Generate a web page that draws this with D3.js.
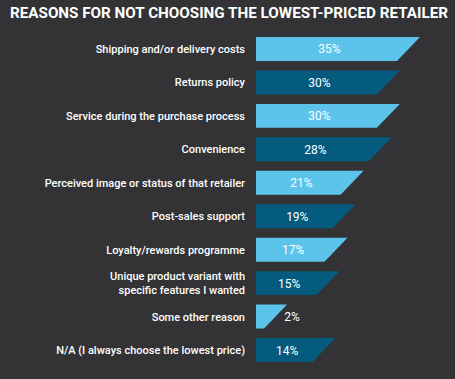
<!DOCTYPE html>
<html>
<head>
<meta charset="utf-8">
<script src="https://cdn.jsdelivr.net/npm/d3@7"></script>
<style>
  body { margin: 0; background: #333335; }
  svg { display: block; }
</style>
</head>
<body>
<div id="chart"></div>
<script>
var title = "REASONS FOR NOT CHOOSING THE LOWEST-PRICED RETAILER";
var categories = [
    "Shipping and/or delivery costs",
    "Returns policy",
    "Service during the purchase process",
    "Convenience",
    "Perceived image or status of that retailer",
    "Post-sales support",
    "Loyalty/rewards programme",
    "Unique product variant with|specific features I wanted",
    "Some other reason",
    "N/A (I always choose the lowest price)"
];
var values = [35, 30, 30, 28, 21, 19, 17, 15, 2, 14];
var colors = ["#5cc3ea", "#045b7e"];

var width = 455, height = 379;
var slant = 23;

var svg = d3.select("#chart").append("svg")
    .attr("width", width)
    .attr("height", height)
    .style("background", "#333335");

svg.append("text")
    .attr("x", 10)
    .attr("y", 18)
    .attr("textLength", 438)
    .attr("lengthAdjust", "spacingAndGlyphs")
    .style("font-family", "Roboto, sans-serif")
    .style("font-weight", "bold")
    .style("font-size", "15px")
    .style("fill", "#ffffff")
    .text(title);

var y = d3.scaleBand()
    .domain(categories)
    .range([37, 362])
    .paddingInner(0.283)
    .paddingOuter(0);

var x = d3.scaleLinear()
    .domain([0, 35])
    .range([256, 397]);

var rows = svg.selectAll("g.row")
    .data(categories)
    .enter().append("g")
    .attr("class", "row")
    .attr("transform", function(d) { return "translate(0," + y(d) + ")"; });

// bar with slanted right end
rows.append("path")
    .attr("d", function(d, i) {
        var h = y.bandwidth();
        var x0 = x(0), x1 = x(values[i]);
        return "M" + x0 + ",0L" + (x1 + slant) + ",0L" + x1 + "," + h + "L" + x0 + "," + h + "Z";
    })
    .style("fill", function(d, i) { return colors[i % 2]; });

// category labels
rows.append("text")
    .attr("text-anchor", "end")
    .style("font-family", "Roboto, sans-serif")
    .style("font-weight", "500")
    .style("font-size", "11px")
    .style("fill", "#ffffff")
    .each(function(d) {
        var lines = d.split("|");
        var t = d3.select(this);
        var h = y.bandwidth();
        lines.forEach(function(l, k) {
            t.append("tspan")
                .attr("x", 245)
                .attr("y", h / 2 + 4 + (k - (lines.length - 1) / 2) * 14)
                .text(l);
        });
    });

// value labels
rows.append("text")
    .attr("text-anchor", "middle")
    .attr("x", function(d, i) {
        var v = values[i];
        if (x(v) - x(0) < 30) return x(v) + slant + 5;
        return (x(0) + x(v)) / 2 + 3;
    })
    .attr("y", y.bandwidth() / 2 + 4.5)
    .style("font-family", "Roboto, sans-serif")
    .style("font-size", "12px")
    .style("fill", "#ffffff")
    .text(function(d, i) { return values[i] + "%"; });
</script>
</body>
</html>
